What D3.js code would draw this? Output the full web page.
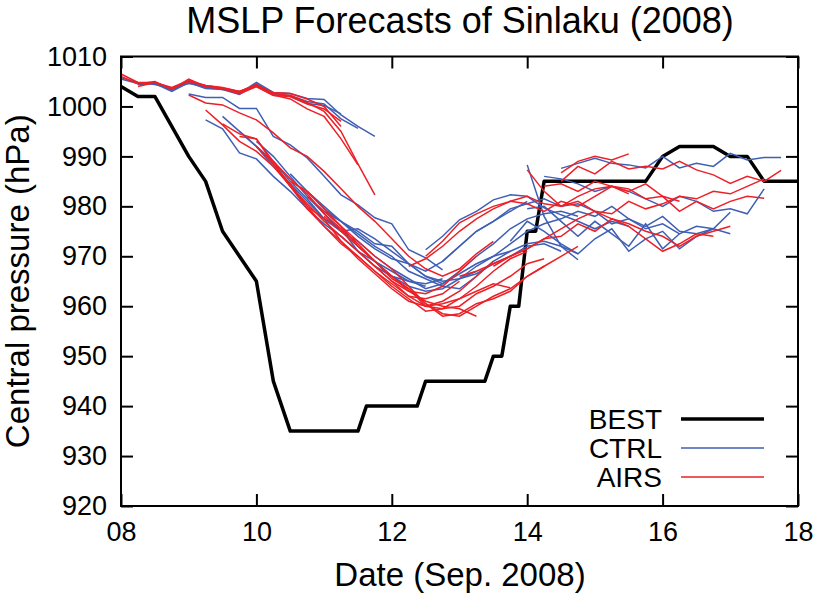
<!DOCTYPE html>
<html>
<head>
<meta charset="utf-8">
<script src="https://cdn.jsdelivr.net/npm/d3@7"></script>
<style>
  html, body { margin: 0; padding: 0; background: #fff; }
  svg { display: block; font-family: "Liberation Sans", Arial, Helvetica, sans-serif; }
</style>
</head>
<body>
<div id="chart"></div>
<script>
// best track (day of Sep. 2008, hPa)
var bestDay = [8.0, 8.25, 8.5, 9.0, 9.25, 9.5, 10.0, 10.25, 10.5, 11.0, 11.5, 11.625, 12.0, 12.375, 12.5,
               13.0, 13.375, 13.5, 13.625, 13.75, 13.875, 14.0, 14.125, 14.25, 15.0, 15.75, 16.0, 16.25,
               16.75, 17.0, 17.25, 17.5, 18.0];
var bestP = [1004, 1002, 1002, 990, 985, 975, 965, 945, 935, 935, 935, 940, 940, 940, 945,
             945, 945, 950, 950, 960, 960, 975, 975, 985, 985, 985, 990, 992,
             992, 990, 990, 985, 985];

// forecasts: init time and 6-hourly MSLP
var ctrlInit = [8.0, 8.0, 8.25, 9.0, 9.25, 9.5, 9.75, 10.0, 10.5, 10.75, 11.0, 11.25,
                12.5, 12.75, 13.0, 14.0, 14.25, 14.5, 13.75, 14.0];
var ctrlP = [
  [1005.5,1004.6,1004.8,1003.2,1005.0,1003.8,1003.6,1002.6,1004.8,1002.8,1002.6,1001.6,1001.4,998.3,996.0,994.0],
  [1005.8,1004.8,1004.4,1003.6,1004.6,1004.0,1003.4,1003.0,1004.2,1002.4,1002.2,1001.0,1000.5,997.5,995.6],
  [1004.4,1004.6,1003.0,1004.8,1003.6,1003.4,1002.4,1004.5,1002.6,1002.0,1000.6,1000.2,998.5],
  [1002.5,1001.8,1001.8,999.6,999.6,994.0,992.3,989.7,986.0,982.3,980.3,977.7,976.5,971.3,969.7,967.3],
  [997.3,995.5,990.7,989.5,986.0,983.0,979.5,976.5,974.0,971.0,968.0,966.0,965.0,964.0],
  [998.0,995.0,992.0,988.0,984.5,981.0,977.5,975.0,972.0,969.0,967.0,965.0,964.5,965.5],
  [995.0,992.0,989.0,985.0,981.5,977.5,975.5,971.0,969.0,966.0,964.0,963.0,963.5,965.5,967.0],
  [993.0,990.0,986.0,982.0,978.5,975.0,973.0,970.0,967.5,965.5,963.5,964.5,966.5,968.5,970.0,971.0],
  [986.5,983.0,980.0,977.0,974.0,971.5,969.5,968.5,967.0,969.0,972.0,975.0,977.0,979.0,981.0],
  [983.0,979.5,977.0,975.0,972.5,972.0,968.5,966.0,964.5,967.0,970.0,972.5,975.5,977.5,978.5,979.0,978.0],
  [979.0,977.0,974.5,972.0,970.0,967.0,965.5,964.0,963.5,966.0,969.0,971.0,972.5,973.0,972.0,970.5],
  [975.0,975.5,973.5,971.0,968.5,966.0,965.0,965.5,966.5,968.5,970.0,972.0,972.5,971.0],
  [971.3,974.0,977.3,979.0,981.3,982.3,982.0,979.7,978.3,977.0,975.5,977.0,976.0],
  [969.0,972.0,975.0,977.0,979.5,980.5,981.5,980.0,980.5,979.0,976.5,977.5,975.5,976.5,974.5],
  [965.5,968.0,970.0,972.5,975.0,976.5,977.5,979.0,978.0,980.0,977.5,976.0,978.0,975.0,974.5,975.5,974.5],
  [988.3,978.0,972.0,969.3],
  [986.0,985.5,984.5,983.0,984.0,983.0,981.5,980.0,982.0,981.0,979.0,979.5,978.5,983.5],
  [987.6,988.6,989.6,988.6,988.3,987.7,990.0,987.7,988.6,988.0,990.6,989.3,989.8,989.8],
  [973.0,977.0,975.0,972.5,970.5,973.5,975.5,971.0,973.5,975.0,971.5,974.0,975.5,978.8],
  [979.5,980.0,977.0,974.0,977.0,974.5,972.0,976.5,971.5,974.5,976.0,975.5]
];

var airsInit = [8.0, 8.0, 8.25, 8.5, 9.0, 9.25, 9.5, 9.75, 10.0, 10.25, 10.5, 10.75, 11.0, 11.25,
                12.5, 12.25, 13.0, 14.0, 14.5, 14.5, 14.25, 13.5];
var airsP = [
  [1006.5,1004.8,1004.8,1003.6,1005.2,1004.2,1003.8,1003.0,1004.4,1002.6,1002.2,1000.8,999.0,995.0,988.5,982.3],
  [1006.0,1004.5,1005.0,1003.4,1005.5,1004.0,1003.5,1002.8,1004.0,1002.3,1001.5,999.5,998.0,993.5,988.3],
  [1004.0,1004.8,1003.6,1005.0,1004.2,1003.7,1003.0,1004.2,1002.8,1002.6,1001.5,1000.0,996.0],
  [1004.8,1003.8,1005.2,1004.0,1003.6,1002.5,1004.0,1002.2,1002.0,1000.5,999.5,997.0],
  [1002.3,1000.7,1000.3,998.7,997.3,994.7,991.7,990.0,987.0,983.5,980.0,977.0,973.5,970.0,967.5,966.0,967.5,970.5,973.0],
  [999.3,996.3,993.0,991.0,988.0,984.0,980.5,977.0,974.0,971.0,968.0,965.0,963.0,962.5,964.0,967.0,970.0],
  [996.5,994.5,993.5,988.5,984.0,979.5,976.0,972.5,970.0,967.0,964.5,962.0,961.5,962.5,965.0],
  [994.0,993.5,989.0,984.0,980.0,976.0,973.0,969.5,966.5,963.5,961.0,960.0,961.0,963.0,966.0,969.0],
  [992.0,988.5,984.5,980.0,977.5,973.0,970.0,967.0,964.0,961.5,959.0,959.5,961.5,964.0,967.0,969.5,971.0],
  [989.0,985.5,982.5,978.5,975.5,972.5,969.0,966.0,963.5,960.5,958.0,958.5,960.5,961.5,963.0,966.0,968.0],
  [985.0,983.0,979.5,976.0,972.0,969.0,965.5,963.5,960.0,959.5,960.0,962.5,964.0,966.0,968.5,969.5],
  [982.0,979.0,976.0,973.0,970.0,967.5,964.0,960.5,958.5,958.0,960.0,962.0,963.5,966.0,968.0,970.0,972.0],
  [978.0,975.0,972.0,969.0,966.0,963.0,961.0,960.0,959.5,958.0],
  [974.0,971.0,968.0,965.0,962.0,960.0,960.5,961.5,963.0,964.5,963.7],
  [970.0,973.0,976.7,978.5,980.0,981.0,982.0,980.5,980.0,982.0,983.5,984.0,982.5],
  [968.0,969.5,972.0,975.0,977.5,979.5,981.0,980.5,979.0,981.0,980.0,982.0,984.0,983.0,984.5,982.0,981.0],
  [966.0,967.0,968.5,970.0,971.5,973.5,975.5,977.5,979.0,978.5,981.0,979.5,980.5,982.0,981.5,983.0,982.5,984.0,985.5],
  [987.3,983.0,980.0,981.0,979.0,977.5,976.5,975.0,974.0,972.0,974.0,975.0,976.0],
  [986.7,989.0,990.0,989.3,990.5],
  [985.0,988.0,986.5,989.0,987.5,988.0,987.5,989.0,987.3,986.3,984.6,986.0,985.0,987.2],
  [984.0,984.5,983.0,985.0,984.0,983.5,981.5,982.0,979.0,981.0,979.5,981.0,982.0,981.6],
  [968.0,970.0,971.5,973.5,974.0,976.5,975.0,977.5,976.0,973.5,971.0,972.5,974.5,974.0]
];

var xTicks = [8, 10, 12, 14, 16, 18];
var yTicks = d3.range(920, 1011, 10);
var legendNames = ["BEST", "CTRL", "AIRS"];
var colors = {BEST: "#000000", CTRL: "#3f5fb5", AIRS: "#ec2027"};

var width = 814, height = 595;
var mLeft = 121, mRight = 798, mTop = 56.5, mBottom = 506;

var svg = d3.select("#chart").append("svg")
    .attr("width", width)
    .attr("height", height);

var x = d3.scaleLinear().domain([8, 18]).range([mLeft, mRight]);
var y = d3.scaleLinear().domain([920, 1010]).range([mBottom, mTop]);

var line = d3.line()
    .x(d => x(d[0]))
    .y(d => y(d[1]));

function toPts(init, vals) {
    return vals.map((v, i) => [init + i * 0.25, v]);
}

// best track
svg.append("path")
    .datum(bestDay.map((d, i) => [d, bestP[i]]))
    .attr("fill", "none")
    .attr("stroke", colors.BEST)
    .attr("stroke-width", 3.5)
    .attr("stroke-linejoin", "round")
    .attr("d", line);

svg.selectAll(".ctrl")
    .data(ctrlP.map((v, i) => toPts(ctrlInit[i], v)))
    .enter().append("path")
    .attr("class", "ctrl")
    .attr("fill", "none")
    .attr("stroke", colors.CTRL)
    .attr("stroke-width", 1.5)
    .attr("d", line);

svg.selectAll(".airs")
    .data(airsP.map((v, i) => toPts(airsInit[i], v)))
    .enter().append("path")
    .attr("class", "airs")
    .attr("fill", "none")
    .attr("stroke", colors.AIRS)
    .attr("stroke-width", 1.5)
    .attr("d", line);

// axes, ticks pointing inward
var gx = svg.append("g")
    .attr("transform", "translate(0," + mBottom + ")")
    .call(d3.axisBottom(x).tickValues(xTicks).tickSize(-12).tickSizeOuter(0).tickPadding(16)
        .tickFormat(d => d3.format("02d")(d)));
var gxt = svg.append("g")
    .attr("transform", "translate(0," + mTop + ")")
    .call(d3.axisTop(x).tickValues(xTicks).tickSize(-12).tickSizeOuter(0).tickFormat(""));
var gy = svg.append("g")
    .attr("transform", "translate(" + mLeft + ",0)")
    .call(d3.axisLeft(y).tickValues(yTicks).tickSize(-12).tickSizeOuter(0).tickPadding(14)
        .tickFormat(d3.format("d")));
var gyr = svg.append("g")
    .attr("transform", "translate(" + mRight + ",0)")
    .call(d3.axisRight(y).tickValues(yTicks).tickSize(-12).tickSizeOuter(0).tickFormat(""));

[gx, gxt, gy, gyr].forEach(g => {
    g.selectAll("line").attr("stroke", "#000").attr("stroke-width", 2);
    g.select(".domain").remove();
    g.selectAll("text").attr("font-size", 27).attr("fill", "#000")
        .attr("font-family", "'Liberation Sans', Arial, sans-serif");
});

svg.append("rect")
    .attr("x", mLeft).attr("y", mTop)
    .attr("width", mRight - mLeft).attr("height", mBottom - mTop)
    .attr("fill", "none").attr("stroke", "#000").attr("stroke-width", 2);

// titles
svg.append("text")
    .attr("x", 460).attr("y", 33)
    .attr("text-anchor", "middle")
    .attr("font-size", 36)
    .text("MSLP Forecasts of Sinlaku (2008)");

svg.append("text")
    .attr("x", 460).attr("y", 586)
    .attr("text-anchor", "middle")
    .attr("font-size", 33)
    .text("Date (Sep. 2008)");

svg.append("text")
    .attr("transform", "translate(29," + ((mTop + mBottom) / 2) + ") rotate(-90)")
    .attr("text-anchor", "middle")
    .attr("font-size", 33)
    .text("Central pressure (hPa)");

// legend
var legend = svg.append("g").selectAll("g")
    .data(legendNames)
    .enter().append("g")
    .attr("transform", (d, i) => "translate(0," + (419 + i * 29) + ")");

legend.append("text")
    .attr("x", 662).attr("dy", "0.36em")
    .attr("text-anchor", "end")
    .attr("font-size", 28)
    .text(d => d);

legend.append("line")
    .attr("x1", 681).attr("x2", 764)
    .attr("stroke", d => colors[d])
    .attr("stroke-width", d => d === "BEST" ? 3.5 : 1.5);
</script>
</body>
</html>
